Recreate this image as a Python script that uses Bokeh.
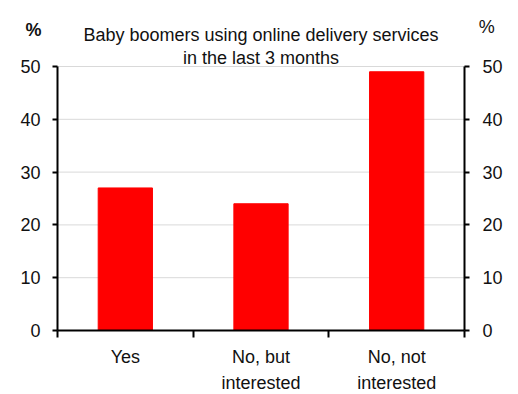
from bokeh.plotting import figure
from bokeh.models import (ColumnDataSource, Range1d, FixedTicker, LinearAxis, Label)
from bokeh.embed import file_html
from bokeh.resources import INLINE

categories = ["Yes", "No, but\ninterested", "No, not\ninterested"]
values = [27, 24, 49]
y_ticks = [0, 10, 20, 30, 40, 50]
title_lines = ["Baby boomers using online delivery services", "in the last 3 months"]

FONT = "Liberation Sans"
FS = "18px"
TC = "#111111"

n = len(categories)
centers = [i + 0.5 for i in range(n)]
src = ColumnDataSource(dict(x=centers, top=values))
grid_src = ColumnDataSource(dict(x0=[0] * len(y_ticks), x1=[n] * len(y_ticks), y=y_ticks))

p = figure(width=516, height=392, output_backend="svg", toolbar_location=None,
           x_range=Range1d(-0.4201, 3.3832), y_range=Range1d(-11.742, 62.5),
           min_border_left=0, min_border_right=0, min_border_top=0, min_border_bottom=0)
p.outline_line_color = None
p.background_fill_color = "white"
p.border_fill_color = "white"
p.xgrid.visible = False
p.ygrid.visible = False

# gridlines (behind bars)
p.segment(x0="x0", x1="x1", y0="y", y1="y", source=grid_src, line_color="#d9d9d9", line_width=1)
p.vbar(x="x", top="top", width=0.4, bottom=0, source=src, color="#ff0000")

# x axis
xa = p.xaxis[0]
xa.fixed_location = 0
xa.bounds = (0, n)
xa.ticker = FixedTicker(ticks=centers, minor_ticks=list(range(n + 1)))
xa.major_label_overrides = {c: lab for c, lab in zip(centers, categories)}
xa.major_tick_out = 0
xa.major_tick_in = 0
xa.minor_tick_out = 7
xa.minor_tick_in = 0
xa.minor_tick_line_color = "black"
xa.minor_tick_line_width = 2
xa.axis_line_color = "black"
xa.axis_line_width = 2
xa.major_label_text_font = FONT
xa.major_label_text_font_size = FS
xa.major_label_text_color = TC
xa.major_label_text_line_height = 1.3
xa.major_label_standoff = 9

def style_y(ax, loc, standoff):
    ax.fixed_location = loc
    ax.ticker = FixedTicker(ticks=y_ticks)
    ax.bounds = (0, 50)
    ax.minor_tick_line_color = None
    ax.major_tick_out = 5
    ax.major_tick_in = 0
    ax.major_tick_line_width = 2
    ax.axis_line_width = 2
    ax.major_label_text_font = FONT
    ax.major_label_text_font_size = FS
    ax.major_label_text_color = TC
    ax.major_label_standoff = standoff

style_y(p.yaxis[0], 0, 12)
ra = LinearAxis()
style_y(ra, n, 13)
p.add_layout(ra, "right")

# title and unit labels
for i, (t, yy) in enumerate(zip(title_lines, [56.06, 51.7])):
    p.add_layout(Label(x=1.5, y=yy, text=t, text_align="center",
                       text_baseline="alphabetic", text_font=FONT, text_font_size=FS,
                       text_color=TC))
p.add_layout(Label(x=-0.177, y=57.0, text="%", text_align="center", text_baseline="alphabetic",
                   text_font=FONT, text_font_size=FS, text_font_style="bold", text_color=TC))
p.add_layout(Label(x=3.164, y=57.44, text="%", text_align="center", text_baseline="alphabetic",
                   text_font=FONT, text_font_size=FS, text_color=TC))

open("out.html", "w").write(file_html(p, INLINE))
